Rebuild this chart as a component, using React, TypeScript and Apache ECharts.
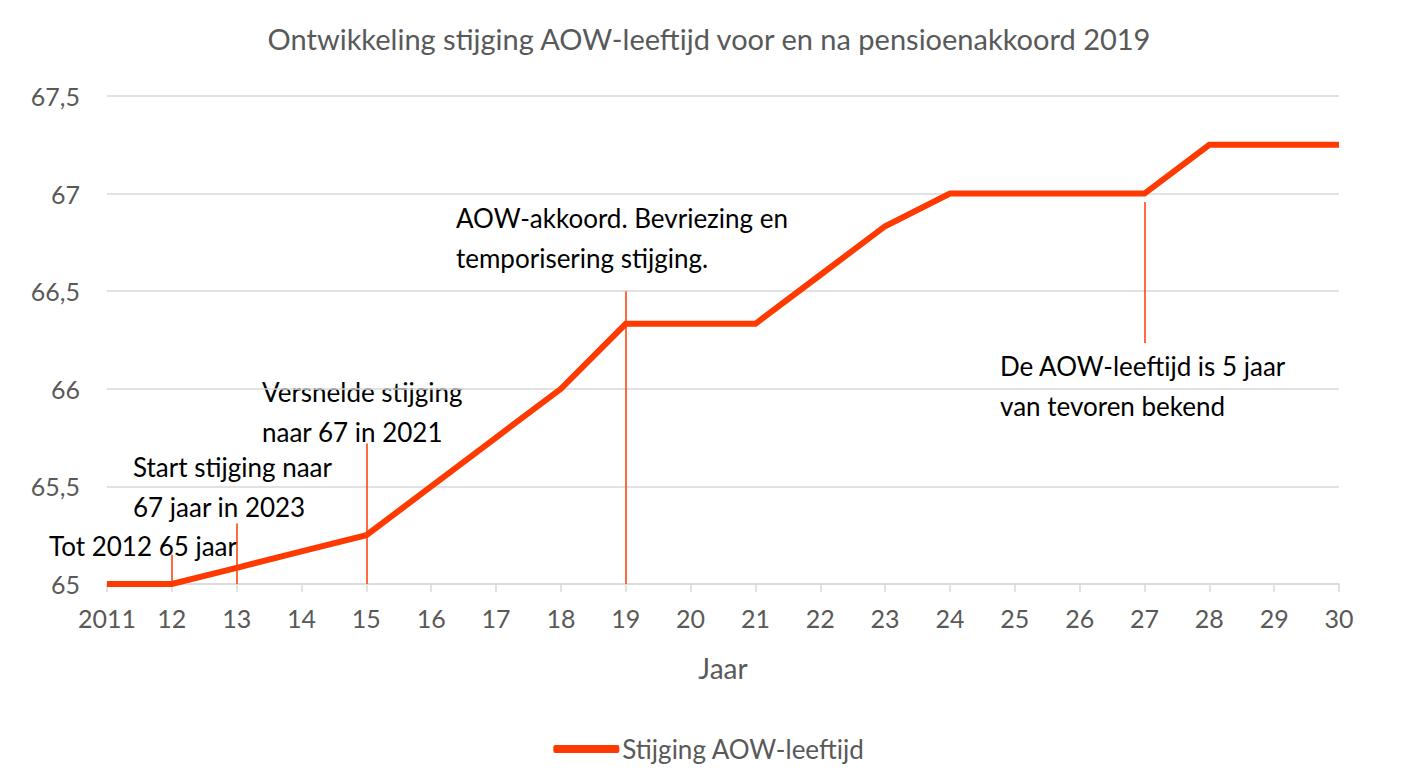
import React, { useEffect, useRef } from "react";
import * as echarts from "echarts";

const years = ["2011", "12", "13", "14", "15", "16", "17", "18", "19", "20", "21", "22", "23", "24", "25", "26", "27", "28", "29", "30"];
const aowAge = [65, 65, 65.083, 65.167, 65.25, 65.5, 65.75, 66, 66.333, 66.333, 66.333, 66.583, 66.833, 67, 67, 67, 67, 67.25, 67.25, 67.25];
const seriesName = "Stijging AOW-leeftijd";
const titleText = "Ontwikkeling stijging AOW-leeftijd voor en na pensioenakkoord 2019";
const xAxisName = "Jaar";

// annotation markers: [category index, y from, y to]
const markerLines: [number, number, number][] = [
  [1, 65, 65.15],
  [2, 65, 65.31],
  [4, 65, 65.72],
  [8, 65, 66.5],
  [16, 66.235, 66.957],
];

// annotation texts: lines, left x, top y (pixel layout)
const annotationTexts = [
  { text: "Tot 2012 65 jaar", x: 49, y: 526 },
  { text: "Start stijging naar\n67 jaar in 2023", x: 133, y: 447 },
  { text: "Versnelde stijging\nnaar 67 in 2021", x: 262, y: 372 },
  { text: "AOW-akkoord. Bevriezing en\ntemporisering stijging.", x: 456, y: 198 },
  { text: "De AOW-leeftijd is 5 jaar\nvan tevoren bekend", x: 1000, y: 346 },
];

const FONT = "Lato, 'Open Sans', sans-serif";
const RED = "#FF3A00";

export default function App() {
  const ref = useRef<HTMLDivElement>(null);
  useEffect(() => {
    document.body.style.margin = "0";
    const chart = echarts.init(ref.current!, null, { renderer: "svg" });
    chart.setOption({
      animation: false,
      backgroundColor: "#ffffff",
      textStyle: { fontFamily: FONT },
      title: {
        text: titleText,
        left: "center",
        top: 19,
        textStyle: { fontFamily: FONT, fontSize: 29, fontWeight: "normal", color: "#595959" },
      },
      legend: {
        bottom: 13,
        left: "center",
        data: [seriesName],
        itemWidth: 66,
        itemHeight: 8,
        itemGap: 5,
        icon: "roundRect",
        textStyle: { fontFamily: FONT, fontSize: 26, color: "#595959", padding: [0, 0, 0, -2] },
      },
      grid: { left: 107, right: 79, top: 96, bottom: 196, containLabel: false },
      xAxis: {
        type: "category",
        data: years,
        boundaryGap: false,
        name: xAxisName,
        nameLocation: "middle",
        nameGap: 70,
        nameTextStyle: { fontFamily: FONT, fontSize: 28, color: "#595959" },
        axisLine: { lineStyle: { color: "#D9D9D9", width: 1.5 } },
        axisTick: { show: true, alignWithLabel: true, length: 8, lineStyle: { color: "#D9D9D9", width: 1.5 } },
        axisLabel: { fontFamily: FONT, fontSize: 25, color: "#595959", margin: 21, interval: 0 },
        splitLine: { show: false },
      },
      yAxis: {
        type: "value",
        min: 65,
        max: 67.5,
        interval: 0.5,
        axisLine: { show: false },
        axisTick: { show: false },
        axisLabel: {
          fontFamily: FONT,
          fontSize: 25,
          color: "#595959",
          margin: 27,
          formatter: (v: number) => String(v).replace(".", ","),
        },
        splitLine: { lineStyle: { color: "#D9D9D9", width: 1.5 } },
      },
      series: [
        {
          name: seriesName,
          type: "line",
          data: aowAge,
          showSymbol: false,
          symbol: "none",
          lineStyle: { color: RED, width: 6, join: "miter" },
          itemStyle: { color: RED },
          markLine: {
            silent: true,
            symbol: ["none", "none"],
            label: { show: false },
            lineStyle: { color: RED, width: 1.5, type: "solid" },
            data: markerLines.map(([i, y0, y1]) => [
              { coord: [i, y0] },
              { coord: [i, y1] },
            ]),
          },
        },
      ],
      graphic: annotationTexts.map((a) => ({
        type: "text",
        left: a.x,
        top: a.y,
        style: {
          text: a.text,
          fontFamily: FONT,
          fontSize: 26,
          lineHeight: 40,
          fill: "#000000",
        },
      })),
    });
    return () => chart.dispose();
  }, []);
  return <div ref={ref} style={{ width: 1418, height: 780 }} />;
}
